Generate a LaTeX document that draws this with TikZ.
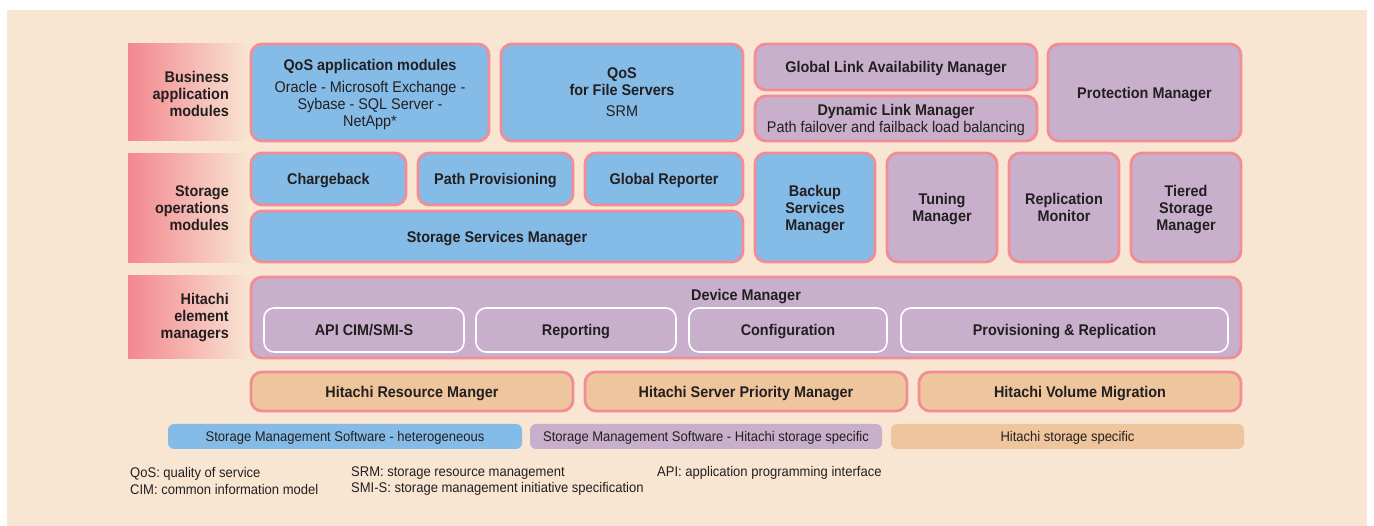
\documentclass[tikz,border=0pt]{standalone}
\usepackage{fontspec}
\setmainfont[FakeStretch=0.93]{Liberation Sans}
\usepackage{tikz}
\pgfdeclarelayer{background}
\pgfdeclarelayer{foreground}
\pgfsetlayers{background,main,foreground}
\definecolor{pagebg}{RGB}{248,230,211}
\definecolor{edgepink}{RGB}{242,141,149}
\definecolor{bandpink}{RGB}{243,135,143}
\definecolor{hetblue}{RGB}{132,187,231}
\definecolor{hitpurple}{RGB}{200,175,204}
\definecolor{hitorange}{RGB}{238,197,156}
\definecolor{inkdark}{RGB}{35,31,32}

\begin{document}
\begin{tikzpicture}[x=1pt,y=-1pt,
  modbox/.style={draw=edgepink,line width=2.8pt,rounded corners=11pt,inner sep=0pt,
    align=center,text=inkdark,text depth=-6.5pt,font=\fontsize{15.5}{17}\selectfont\bfseries},
  blue/.style={modbox,fill=hetblue},
  purple/.style={modbox,fill=hitpurple},
  orange/.style={modbox,fill=hitorange},
  subbox/.style={draw=white,line width=1.6pt,rounded corners=10pt,inner sep=0pt,
    text=inkdark,text depth=-6.5pt,font=\fontsize{15.5}{17}\selectfont\bfseries},
  keybox/.style={rounded corners=6pt,inner sep=0pt,minimum height=25pt,
    text=inkdark,text depth=-3pt,font=\fontsize{14}{16.7}\selectfont},
  rowlabel/.style={anchor=east,align=right,inner sep=0pt,text=inkdark,
    font=\fontsize{15.5}{17}\selectfont\bfseries},
  note/.style={anchor=west,align=left,inner sep=0pt,text=inkdark,
    font=\fontsize{14}{16.7}\selectfont}]
\useasboundingbox (0,0) rectangle (1374,526);
\begin{pgfonlayer}{background}
\fill[pagebg] (7,10) rectangle (1367,526);
\shade[left color=bandpink,right color=pagebg] (128,44) rectangle (251,141);
\shade[left color=bandpink,right color=pagebg] (128,154) rectangle (251,263);
\shade[left color=bandpink,right color=pagebg] (128,276) rectangle (251,359);
\end{pgfonlayer}
% row labels
\node[rowlabel] (lbus) at (229,93.5) {Business\\application\\modules};
\node[rowlabel] (lsto) at (229,208) {Storage\\operations\\modules};
\node[rowlabel] (lhit) at (229,318) {Hitachi\\element\\managers};
% business application modules
\node[blue,minimum width=238pt,minimum height=97pt] (qosapp) at (370,92.5)
  {QoS application modules\\[5pt]\mdseries Oracle - Microsoft Exchange -\\\mdseries Sybase - SQL Server -\\\mdseries NetApp*};
\node[blue,minimum width=242pt,minimum height=97pt] (qosfile) at (622,92.5)
  {QoS\\for File Servers\\[4pt]\mdseries SRM};
\node[purple,minimum width=282pt,minimum height=46pt] (glam) at (896,67) {Global Link Availability Manager};
\node[purple,minimum width=282pt,minimum height=45pt] (dlm) at (896,118.5)
  {Dynamic Link Manager\\\mdseries Path failover and failback load balancing};
\node[purple,minimum width=193pt,minimum height=97pt] (protect) at (1144.5,92.5) {Protection Manager};
% storage operations modules
\node[blue,minimum width=155pt,minimum height=52pt] (charge) at (328.5,179) {Chargeback};
\node[blue,minimum width=155pt,minimum height=52pt] (pathprov) at (495.5,179) {Path Provisioning};
\node[blue,minimum width=158pt,minimum height=52pt] (globrep) at (664,179) {Global Reporter};
\node[blue,minimum width=492pt,minimum height=51pt] (ssm) at (497,236.5) {Storage Services Manager};
\node[blue,minimum width=120pt,minimum height=109pt] (backup) at (815,207.5) {Backup\\Services\\Manager};
\node[purple,minimum width=110pt,minimum height=109pt] (tuning) at (942,207.5) {Tuning\\Manager};
\node[purple,minimum width=110pt,minimum height=109pt] (replmon) at (1064,207.5) {Replication\\Monitor};
\node[purple,minimum width=110pt,minimum height=109pt] (tiered) at (1186,207.5) {Tiered\\Storage\\Manager};
% element managers
\node[purple,minimum width=990pt,minimum height=81pt] (devmgr) at (746,317.5) {};
\node[text=inkdark,text depth=-3.7pt,font=\fontsize{15.5}{17}\selectfont\bfseries] (devtitle) at (746,295) {Device Manager};
\node[subbox,minimum width=200pt,minimum height=44pt] (api) at (364,330) {API CIM/SMI-S};
\node[subbox,minimum width=200pt,minimum height=44pt] (report) at (576,330) {Reporting};
\node[subbox,minimum width=198pt,minimum height=44pt] (config) at (788,330) {Configuration};
\node[subbox,minimum width=327pt,minimum height=44pt] (provrep) at (1064.5,330) {Provisioning \& Replication};
% hitachi storage specific
\node[orange,minimum width=322pt,minimum height=39pt] (hrm) at (412,391.5) {Hitachi Resource Manger};
\node[orange,minimum width=322pt,minimum height=39pt] (hspm) at (746,391.5) {Hitachi Server Priority Manager};
\node[orange,minimum width=322pt,minimum height=39pt] (hvm) at (1080,391.5) {Hitachi Volume Migration};
% legend
\node[keybox,fill=hetblue,minimum width=354pt] (keyblue) at (345,436.5) {Storage Management Software - heterogeneous};
\node[keybox,fill=hitpurple,minimum width=352pt] (keypurple) at (706,436.5) {Storage Management Software - Hitachi storage specific};
\node[keybox,fill=hitorange,minimum width=353pt] (keyorange) at (1067.5,436.5) {Hitachi storage specific};
% abbreviations
\node[note] (noteone) at (130,481) {QoS: quality of service\\CIM: common information model};
\node[note] (notetwo) at (351,481) {SRM: storage resource management\\SMI-S: storage management initiative specification};
\node[note,anchor=north west] (notethree) at (657,466) {API: application programming interface};
\end{tikzpicture}
\end{document}
